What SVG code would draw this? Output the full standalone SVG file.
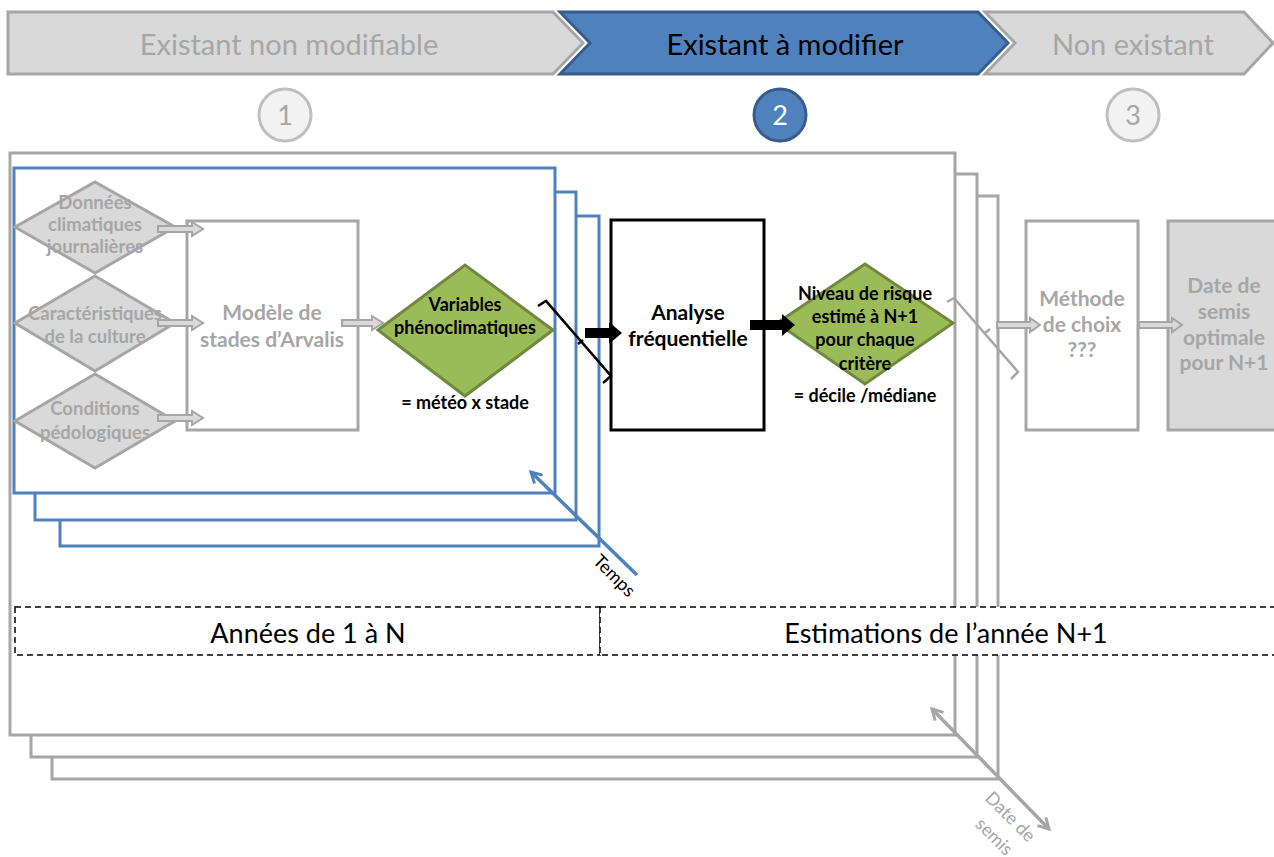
<svg xmlns="http://www.w3.org/2000/svg" width="1274" height="857" viewBox="0 0 1274 857">
<style>
.chevG{fill:#d9d9d9;stroke:#a6a6a6;stroke-width:3}
.chevB{fill:#4f81bd;stroke:#385d8a;stroke-width:3}
.ctxt{font-family:Lato,"Open Sans",sans-serif;font-size:29px;text-anchor:middle}
.num{font-family:Lato,"Open Sans",sans-serif;font-size:27px;text-anchor:middle}
.frameG{fill:#fff;stroke:#a6a6a6;stroke-width:3}
.frameB{fill:#fff;stroke:#4f81bd;stroke-width:3}
.diaG{fill:#d9d9d9;stroke:#a6a6a6;stroke-width:3}
.diaV{fill:#9bbb59;stroke:#71893f;stroke-width:3}
.boxG{fill:#fff;stroke:#a6a6a6;stroke-width:3}
.boxGf{fill:#d9d9d9;stroke:#a6a6a6;stroke-width:3}
.boxK{fill:#fff;stroke:#000;stroke-width:3}
.tg{font-family:Lato,"Open Sans",sans-serif;font-weight:bold;font-size:18.5px;fill:#a6a6a6;text-anchor:middle}
.tk{font-family:Lato,"Open Sans",sans-serif;font-weight:bold;font-size:18px;fill:#000;text-anchor:middle}
.big{font-size:21px}
.mid{font-size:18px}
.arrG{fill:#d9d9d9;stroke:#a6a6a6;stroke-width:2}
.arrK{fill:#000;stroke:none}
.dash{fill:#fff;stroke:#000;stroke-width:1.5;stroke-dasharray:6 4}
.tl{font-family:Lato,"Open Sans",sans-serif;font-size:27px;fill:#000;text-anchor:middle}
.ax{font-family:Lato,"Open Sans",sans-serif;font-size:18px;text-anchor:middle}
</style>
<defs>
<marker id="headB" viewBox="0 0 12 12" refX="10" refY="6" markerWidth="4" markerHeight="4" orient="auto-start-reverse" markerUnits="strokeWidth">
<path d="M1,1 L10,6 L1,11" fill="none" stroke="#4f81bd" stroke-width="2.5"/>
</marker>
<marker id="headG" viewBox="0 0 12 12" refX="10" refY="6" markerWidth="4" markerHeight="4" orient="auto-start-reverse" markerUnits="strokeWidth">
<path d="M1,1 L10,6 L1,11" fill="none" stroke="#a6a6a6" stroke-width="2.5"/>
</marker>
</defs>

<g id="banner">
<g id="phase1">
<path class="chevG" d="M8,12 L553,12 L583,43 L553,74 L8,74 Z"/>
<text class="ctxt" x="289" y="55" fill="#a6a6a6">Existant non modifiable</text>
</g>
<g id="phase2">
<path class="chevB" d="M560,12 L978,12 L1008,43 L978,74 L560,74 L590,43 Z"/>
<text class="ctxt" x="785" y="55" fill="#000">Existant à modifier</text>
</g>
<g id="phase3">
<path class="chevG" d="M985,12 L1244,12 L1273,43 L1244,74 L985,74 L1015,43 Z"/>
<text class="ctxt" x="1133" y="55" fill="#a6a6a6">Non existant</text>
</g>
<g id="step1">
<circle cx="285" cy="115" r="26" fill="#f2f2f2" stroke="#bfbfbf" stroke-width="3"/>
<text class="num" x="285" y="125" fill="#a6a6a6">1</text>
</g>
<g id="step2">
<circle cx="780" cy="115" r="26" fill="#4f81bd" stroke="#385d8a" stroke-width="3"/>
<text class="num" x="780" y="125" fill="#fff">2</text>
</g>
<g id="step3">
<circle cx="1133" cy="115" r="26" fill="#f2f2f2" stroke="#bfbfbf" stroke-width="3"/>
<text class="num" x="1133" y="125" fill="#a6a6a6">3</text>
</g>
</g>

<g id="frameDates">
<rect class="frameG" x="52" y="196" width="946" height="583"/>
<rect class="frameG" x="31" y="174" width="946" height="583"/>
<rect class="frameG" x="10" y="153" width="945" height="582"/>
</g>

<g id="frameYears">
<rect class="frameB" x="60" y="216" width="539" height="330"/>
<rect class="frameB" x="35" y="192" width="541" height="328"/>
<rect class="frameB" x="14" y="168" width="541" height="325"/>
</g>

<g id="periods">
<g id="years">
<rect class="dash" x="15" y="607" width="585" height="48"/>
<text class="tl" x="308" y="643">Années de 1 à N</text>
</g>
<g id="estimations">
<rect class="dash" x="600" y="607" width="680" height="48"/>
<text class="tl" x="946" y="643">Estimations de l’année N+1</text>
</g>
</g>

<g id="n-donnees">
<path class="diaG" d="M15,227 L95,182 L175,227 L95,273 Z"/>
<text class="tg" x="95" y="209">Données</text>
<text class="tg" x="95" y="231">climatiques</text>
<text class="tg" x="95" y="253">journalières</text>
</g>
<g id="n-caracteristiques">
<path class="diaG" d="M15,323 L95,276 L175,323 L95,371 Z"/>
<text class="tg" x="95" y="320">Caractéristiques</text>
<text class="tg" x="95" y="343">de la culture</text>
</g>
<g id="n-conditions">
<path class="diaG" d="M15,421 L95,374 L175,421 L95,468 Z"/>
<text class="tg" x="95" y="415">Conditions</text>
<text class="tg" x="95" y="439">pédologiques</text>
</g>
<g id="n-modele">
<rect class="boxG" x="187" y="221" width="171" height="209"/>
<text class="tg big" x="272" y="320">Modèle de</text>
<text class="tg big" x="272" y="347">stades d’Arvalis</text>
</g>
<g id="n-variables">
<path class="diaV" d="M378,330 L465,265 L553,330 L465,396 Z"/>
<text class="tk" x="465" y="311">Variables</text>
<text class="tk" x="465" y="334">phénoclimatiques</text>
<text class="tk" x="465" y="409" font-size="18.5">= météo x stade</text>
</g>
<g id="n-analyse">
<rect class="boxK" x="611" y="220" width="153" height="210"/>
<text class="tk big" x="688" y="320">Analyse</text>
<text class="tk big" x="688" y="346">fréquentielle</text>
</g>
<g id="n-niveau">
<path class="diaV" d="M777,323 L865,264 L953,323 L865,384 Z"/>
<text class="tk mid" x="865" y="300">Niveau de risque</text>
<text class="tk mid" x="865" y="323">estimé à N+1</text>
<text class="tk mid" x="865" y="346">pour chaque</text>
<text class="tk mid" x="865" y="370">critère</text>
<text class="tk mid" x="865" y="402">= décile /médiane</text>
</g>
<g id="n-methode">
<rect class="boxG" x="1026" y="221" width="112" height="209"/>
<text class="tg big" x="1082" y="306">Méthode</text>
<text class="tg big" x="1082" y="332">de choix</text>
<text class="tg big" x="1082" y="357">???</text>
</g>
<g id="n-date">
<rect class="boxGf" x="1168" y="221" width="112" height="209"/>
<text class="tg big" x="1224" y="293">Date de</text>
<text class="tg big" x="1224" y="319">semis</text>
<text class="tg big" x="1224" y="345">optimale</text>
<text class="tg big" x="1224" y="370">pour N+1</text>
</g>

<g id="connectors">
<path class="arrG" d="M158,226 L192,226 L192,222 L203,229 L192,236 L192,232 L158,232 Z"/>
<path class="arrG" d="M158,320 L192,320 L192,316 L203,323 L192,330 L192,326 L158,326 Z"/>
<path class="arrG" d="M158,415 L192,415 L192,411 L203,418 L192,425 L192,421 L158,421 Z"/>
<path class="arrG" d="M342,320 L372,320 L372,316 L383,323 L372,330 L372,326 L342,326 Z"/>
<path d="M538,306 L546,301 L611,376 L603,383 M578,344 L583,340" fill="none" stroke="#000" stroke-width="2.5"/>
<path class="arrK" d="M585,328 L609,328 L609,322 L622,333 L609,344 L609,338 L585,338 Z"/>
<path class="arrK" d="M750,320 L782,320 L782,314 L795,325 L782,336 L782,330 L750,330 Z"/>
<path d="M947,302 L954,298 L1018,372 L1011,379 M985,333 L990,329" fill="none" stroke="#a6a6a6" stroke-width="2.5"/>
<path class="arrG" d="M997,322 L1030,322 L1030,318 L1040,325 L1030,332 L1030,328 L997,328 Z"/>
<path class="arrG" d="M1139,322 L1172,322 L1172,318 L1182,325 L1172,332 L1172,328 L1139,328 Z"/>
<line x1="637" y1="575" x2="531" y2="472" stroke="#4f81bd" stroke-width="3.5" marker-end="url(#headB)"/>
<line x1="932" y1="709" x2="1049" y2="829" stroke="#a6a6a6" stroke-width="3.5" marker-start="url(#headG)" marker-end="url(#headG)"/>
</g>

<g id="axis-labels">
<text class="ax" x="0" y="0" transform="translate(610,580) rotate(45)" fill="#000">Temps</text>
<text class="ax" x="0" y="0" transform="translate(1006,821) rotate(45)" fill="#a6a6a6">Date de</text>
<text class="ax" x="0" y="0" transform="translate(990,841) rotate(45)" fill="#a6a6a6">semis</text>
</g>
</svg>
